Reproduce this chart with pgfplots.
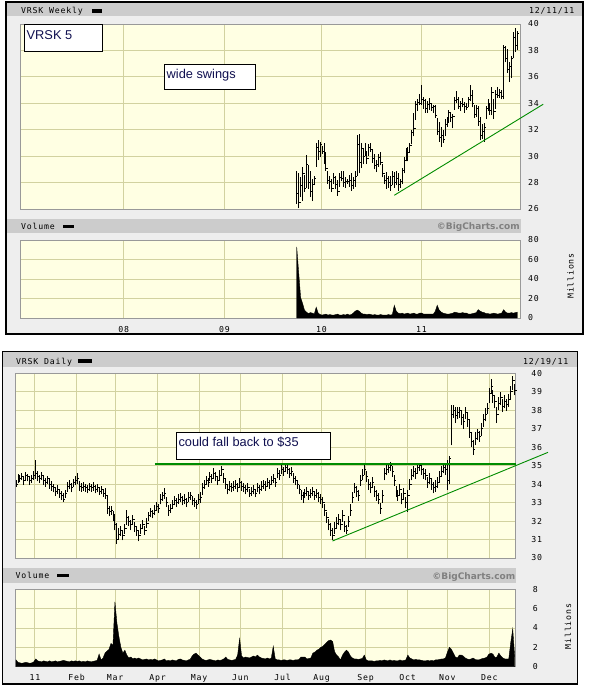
\documentclass[border=0pt]{standalone}
\usepackage{fontspec}
\setmainfont{Liberation Sans}
\newfontfamily\pix[LetterSpace=10]{DejaVu Sans Mono}
\newfontfamily\bcf{DejaVu Sans}
\usepackage{pgfplots}
\usepackage{pgfplotstable}
\pgfplotsset{compat=1.18}
\definecolor{framebg}{HTML}{EEEEEE}
\definecolor{hdr}{HTML}{CCCCCC}
\definecolor{plotbg}{HTML}{FFFFE3}
\definecolor{gridc}{HTML}{D2D2A0}
\definecolor{trend}{HTML}{008C00}
\definecolor{boxtxt}{HTML}{101050}
\newcommand\pixs{\pix\fontsize{8.2}{9}\selectfont}
\newcommand\boxs{\fontsize{12.8}{14}\selectfont\color{boxtxt}}

% weekly: x = week index (0 = week of 9 Oct 2009), lo hi close, v = volume (millions)
\pgfplotstableread{
x lo hi cl v
0 26.4 28.9 27.2 73
1 26.05 28.7 26.5 47
2 26.9 28.4 27.8 21
3 26.6 29.2 28.7 15
4 27.3 28.6 27.6 8
5 27.6 30.1 29.4 6
6 27.5 29.3 28.0 4.5
7 26.9 28.9 27.3 5.5
8 26.6 28.3 27.9 5
9 27.8 28.5 28.3 4
10 29.2 31.0 30.7 11
11 29.7 31.2 30.4 5
12 29.9 31.1 30.9 3.5
13 30.2 30.8 30.4 3
14 29.4 31.0 29.7 3.5
15 28.9 30.3 29.1 4
16 27.9 28.9 28.2 3
17 27.5 28.5 28.1 3.5
18 27.3 28.3 27.6 3
19 27.9 28.7 28.4 3
20 27.5 28.5 27.9 3.5
21 27.0 28.2 27.3 4
22 27.7 28.7 28.4 3
23 28.1 28.9 28.3 3
24 27.7 28.9 28.0 3.5
25 27.6 28.4 28.1 3
26 27.9 28.3 28.1 4
27 27.7 28.6 28.2 3
28 27.4 28.7 27.8 3.5
29 27.5 28.4 28.2 5
30 27.7 28.9 28.5 7
31 28.5 31.6 30.9 8
32 28.7 31.7 29.5 7
33 29.1 31.0 30.6 5
34 29.4 30.6 30.0 4
35 30.0 31.0 30.4 4
36 29.4 30.4 29.8 3.5
37 30.0 30.9 30.7 4
38 30.3 31.0 30.5 3.5
39 29.5 30.5 29.8 3
40 29.0 30.2 29.3 3.5
41 28.8 29.7 29.4 3
42 29.2 30.2 29.9 3
43 29.3 30.3 29.5 3.5
44 28.4 29.4 28.7 3
45 27.9 28.6 28.2 3
46 27.5 28.8 28.3 3
47 27.6 28.5 28.0 3.5
48 27.4 28.5 27.8 3
49 27.8 28.9 28.5 3.5
50 27.6 28.8 28.0 13
51 27.8 28.9 28.3 7
52 27.4 28.7 27.9 5
53 27.6 28.3 28.1 4.5
54 27.9 29.1 28.9 5
55 28.7 29.9 29.7 4
56 29.6 30.6 29.8 4.5
57 29.6 30.7 30.3 5
58 30.3 31.0 30.8 4
59 30.9 32.0 31.8 4.5
60 31.5 33.3 32.1 5
61 32.75 34.15 33.9 4
62 33.4 34.3 34.1 4
63 33.9 34.7 34.0 5
64 33.9 35.4 34.3 5
65 33.6 34.5 34.2 4
66 33.3 34.3 33.6 4
67 33.3 34.2 33.9 4
68 33.5 34.4 34.0 4
69 33.4 34.0 33.7 4
70 33.3 33.9 33.8 4
71 32.9 33.9 33.1 7
72 31.6 32.9 31.9 13
73 31.1 32.6 31.4 8
74 30.7 32.2 31.6 6
75 31.0 32.0 31.3 5
76 31.5 32.8 32.4 4.5
77 32.2 33.0 32.7 4
78 32.5 33.5 33.3 4
79 32.6 33.3 32.9 4.5
80 32.1 33.2 33.0 5
81 33.5 34.5 34.2 6
82 34.0 34.9 34.3 5.5
83 33.6 34.5 33.8 5
84 33.4 34.2 34.0 5
85 33.7 34.4 33.9 5.5
86 33.3 34.1 33.8 5
87 33.5 34.0 33.7 5
88 33.7 34.5 34.3 4
89 34.15 35.4 34.6 4
90 33.7 35.0 34.0 4.5
91 32.9 33.9 33.2 5
92 33.0 33.9 33.6 5.5
93 32.3 33.8 32.6 8.5
94 31.2 33.0 31.6 7
95 31.3 32.4 31.9 6
96 31.1 32.5 32.2 5.5
97 32.8 33.8 33.6 4.5
98 33.4 34.3 34.0 4.5
99 33.1 34.0 33.5 4
100 33.1 35.2 34.8 4.5
101 32.8 34.3 33.4 5
102 33.6 35.0 34.7 4.5
103 34.4 35.2 34.6 4
104 34.4 35.1 34.8 4.5
105 34.3 35.0 34.5 5
106 34.3 38.4 38.2 8.5
107 37.1 38.3 37.4 6
108 36.3 38.1 36.6 5
109 35.6 37.1 36.8 5
110 35.9 37.6 37.4 5.5
111 37.4 39.4 39.0 5
112 37.9 39.7 38.4 5.5
113 38.0 39.5 39.3 6
}\weekly

% daily: x = trading day index (0 = 20 Dec 2010), lo hi close, v = volume (millions)
\pgfplotstableread{
x lo hi cl v
0 33.85 34.25 34.0 0.7
1 34.05 34.55 34.4 0.45
2 34.1 34.5 34.3 0.4
3 34.2 34.6 34.4 0.35
4 33.95 34.45 34.2 0.4
5 34.2 34.65 34.5 0.45
6 34.15 34.55 34.4 0.4
7 33.95 34.45 34.2 0.35
8 34.05 34.5 34.3 0.4
9 34.25 34.7 34.5 0.5
10 34.3 35.3 34.6 0.8
11 34.15 34.7 34.4 0.6
12 34.05 34.5 34.3 0.55
13 34.2 34.65 34.5 0.5
14 33.95 34.5 34.2 0.6
15 33.85 34.35 34.1 0.55
16 34.0 34.45 34.3 0.5
17 33.75 34.3 34.0 0.6
18 33.65 34.15 33.9 0.5
19 33.55 34.0 33.8 0.55
20 33.35 33.85 33.6 0.6
21 33.45 33.95 33.7 0.5
22 33.25 33.75 33.5 0.55
23 33.15 33.65 33.4 0.6
24 33.05 33.5 33.2 0.65
25 33.25 33.7 33.5 0.6
26 33.6 34.1 33.9 0.55
27 33.75 34.2 34.0 0.5
28 33.55 34.05 33.8 0.6
29 33.85 34.3 34.1 0.55
30 33.95 34.45 34.2 0.6
31 34.0 34.6 34.3 0.55
32 33.65 34.15 33.9 0.6
33 33.6 34.05 33.8 0.5
34 33.65 34.1 33.9 0.55
35 33.6 34.0 33.8 0.5
36 33.5 33.95 33.7 0.6
37 33.65 34.05 33.9 0.55
38 33.6 34.0 33.8 0.5
39 33.65 34.1 33.9 0.55
40 33.5 33.95 33.7 0.6
41 33.55 34.0 33.8 0.65
42 33.4 33.85 33.6 1.3
43 33.45 33.9 33.7 0.7
44 33.3 33.75 33.5 0.9
45 33.2 33.8 33.4 1.4
46 32.4 33.4 32.7 1.6
47 32.25 32.8 32.5 1.8
48 32.35 32.8 32.6 2.4
49 32.0 32.55 32.3 2.2
50 31.5 32.4 31.8 6.7
51 30.75 31.9 31.0 4.5
52 31.0 31.6 31.3 3.1
53 31.2 31.75 31.5 2.0
54 30.95 31.5 31.2 1.4
55 31.3 31.85 31.6 1.7
56 31.8 32.6 32.2 1.2
57 31.75 32.3 32.0 0.9
58 31.5 32.05 31.8 1.0
59 31.8 32.35 32.1 0.8
60 31.4 31.95 31.7 0.9
61 31.2 31.75 31.5 0.8
62 30.9 31.5 31.2 0.9
63 31.3 31.85 31.6 0.8
64 31.55 32.05 31.8 0.7
65 31.25 31.75 31.5 0.75
66 31.6 32.15 31.9 0.8
67 32.0 32.5 32.3 0.7
68 32.2 32.7 32.5 0.75
69 32.15 32.6 32.4 0.7
70 32.35 32.85 32.6 0.8
71 32.55 33.05 32.8 0.7
72 32.45 32.95 32.7 0.6
73 32.9 33.45 33.2 0.65
74 33.1 33.6 33.4 0.7
75 33.2 33.8 33.5 0.8
76 32.75 33.3 33.0 0.6
77 32.3 32.85 32.6 0.65
78 32.45 32.95 32.7 0.6
79 32.65 33.15 32.9 0.7
80 32.85 33.35 33.1 0.65
81 32.75 33.25 33.0 0.6
82 32.95 33.45 33.2 0.75
83 33.05 33.5 33.3 0.8
84 32.85 33.35 33.1 0.7
85 32.95 33.45 33.2 0.65
86 32.75 33.25 33.0 0.6
87 33.05 33.55 33.3 0.7
88 33.15 33.6 33.4 0.75
89 32.85 33.35 33.1 1.1
90 32.75 33.25 33.0 1.3
91 32.65 33.15 32.9 1.4
92 32.95 33.45 33.2 1.2
93 33.0 33.6 33.3 1.0
94 33.4 34.05 33.8 0.8
95 33.75 34.25 34.0 0.7
96 33.95 34.45 34.2 0.65
97 33.85 34.35 34.1 0.7
98 34.15 34.65 34.4 0.75
99 34.05 34.55 34.3 0.7
100 34.35 34.85 34.6 0.65
101 34.15 34.65 34.4 0.6
102 33.95 34.45 34.2 0.7
103 34.25 34.75 34.5 0.65
104 34.5 35.0 34.8 0.7
105 34.05 34.6 34.3 0.8
106 33.75 34.3 34.0 1.0
107 33.45 33.95 33.7 0.75
108 33.65 34.15 33.9 0.7
109 33.55 34.05 33.8 0.65
110 33.65 34.15 33.9 0.7
111 33.75 34.25 34.0 0.75
112 33.55 34.05 33.8 1.2
113 33.85 34.35 34.1 2.9
114 33.65 34.15 33.9 1.1
115 33.55 34.05 33.8 0.9
116 33.45 33.95 33.7 1.0
117 33.55 34.05 33.8 0.95
118 33.3 33.75 33.5 0.9
119 33.35 33.85 33.6 1.0
120 33.45 33.95 33.7 1.1
121 33.3 33.75 33.5 1.0
122 33.55 34.05 33.8 1.2
123 33.45 33.95 33.7 1.0
124 33.65 34.15 33.9 0.9
125 33.75 34.25 34.0 0.85
126 33.65 34.15 33.9 0.8
127 33.85 34.35 34.1 0.9
128 33.75 34.25 34.0 0.8
129 33.95 34.45 34.2 0.9
130 34.05 34.55 34.3 2.1
131 33.85 34.35 34.1 0.8
132 34.35 34.85 34.6 0.7
133 34.25 34.75 34.5 0.7
134 34.55 35.05 34.8 0.65
135 34.45 34.95 34.7 0.7
136 34.65 35.1 34.9 0.7
137 34.55 35.1 34.8 0.65
138 34.35 34.85 34.6 0.7
139 34.45 34.95 34.7 0.7
140 34.05 34.6 34.3 0.65
141 33.95 34.45 34.2 0.7
142 33.75 34.25 34.0 0.7
143 33.45 33.95 33.7 0.75
144 33.15 33.7 33.4 1.0
145 33.0 33.55 33.3 1.0
146 33.25 33.75 33.5 1.0
147 33.35 33.85 33.6 0.8
148 33.15 33.65 33.4 0.85
149 33.25 33.75 33.5 0.9
150 33.35 33.85 33.6 1.4
151 33.15 33.65 33.4 1.5
152 33.25 33.75 33.5 1.7
153 33.05 33.55 33.3 1.8
154 32.95 33.45 33.2 2.0
155 32.7 33.3 33.0 2.1
156 32.3 32.9 32.6 2.3
157 31.9 32.5 32.2 2.5
158 31.5 32.1 31.8 2.7
159 31.2 31.9 31.5 2.75
160 31.0 31.6 31.2 2.6
161 31.3 31.95 31.6 1.55
162 31.6 32.2 31.9 1.2
163 31.8 32.4 32.1 1.0
164 31.5 32.1 31.8 0.7
165 31.95 32.6 32.3 1.2
166 31.4 32.0 31.7 1.5
167 31.3 31.8 31.5 1.7
168 31.7 32.3 32.0 1.5
169 32.3 32.95 32.6 1.1
170 33.0 33.6 33.3 0.9
171 33.5 34.05 33.8 0.8
172 33.3 33.9 33.6 0.8
173 33.1 33.7 33.4 0.75
174 33.9 34.5 34.2 0.8
175 34.2 34.8 34.5 0.85
176 34.5 35.05 34.8 1.2
177 34.1 34.7 34.4 0.7
178 33.7 34.3 34.0 0.6
179 33.5 34.1 33.8 0.6
180 33.8 34.4 34.1 0.6
181 33.3 33.9 33.6 0.55
182 33.1 33.7 33.4 0.6
183 32.9 33.5 33.2 0.6
184 32.4 33.0 32.7 0.65
185 33.0 33.7 33.4 0.6
186 34.2 34.9 34.6 0.7
187 34.5 35.1 34.8 0.65
188 34.6 35.15 34.9 0.6
189 34.7 35.2 35.0 0.7
190 34.4 35.0 34.7 0.6
191 33.9 34.5 34.2 0.65
192 33.3 33.9 33.6 0.6
193 33.1 33.7 33.4 0.6
194 33.4 34.0 33.7 0.7
195 32.9 33.5 33.2 0.6
196 33.2 33.8 33.5 0.65
197 32.7 33.3 33.0 0.7
198 32.5 33.7 33.4 1.2
199 33.7 34.3 34.0 0.9
200 34.2 34.8 34.5 0.8
201 34.4 35.0 34.7 0.7
202 34.3 34.9 34.6 0.75
203 34.6 35.1 34.9 0.7
204 34.7 35.15 35.0 0.7
205 34.5 35.1 34.8 0.65
206 34.3 34.9 34.6 0.6
207 34.2 34.8 34.5 0.6
208 33.8 34.4 34.1 0.65
209 34.0 34.6 34.3 0.6
210 33.7 34.3 34.0 0.65
211 33.5 34.1 33.8 0.6
212 33.6 34.2 33.9 0.7
213 33.8 34.4 34.1 0.7
214 34.1 34.7 34.4 0.75
215 34.4 35.0 34.7 0.8
216 34.6 35.1 34.9 0.8
217 34.5 35.05 34.8 0.9
218 33.7 35.3 34.2 1.5
219 34.0 35.5 35.4 2.0
220 36.1 38.3 37.8 1.8
221 37.6 38.3 38.0 1.4
222 37.3 38.2 37.7 1.0
223 37.5 38.2 37.9 0.9
224 37.6 38.2 38.0 1.2
225 37.2 38.0 37.6 1.2
226 37.0 37.8 37.4 1.1
227 37.5 38.2 37.9 0.9
228 37.1 37.9 37.5 0.8
229 36.5 37.5 36.8 0.75
230 36.0 36.8 36.3 0.8
231 35.6 36.4 35.9 0.9
232 36.1 36.8 36.5 0.75
233 36.4 37.0 36.8 0.7
234 36.3 36.9 36.6 0.7
235 36.6 37.3 37.0 0.8
236 37.1 37.8 37.5 0.85
237 37.4 38.1 37.8 0.9
238 37.8 38.4 38.1 1.0
239 38.4 39.2 38.9 1.3
240 38.9 39.7 39.3 1.4
241 38.4 39.1 38.8 1.3
242 38.1 38.8 38.5 0.95
243 37.3 38.2 37.8 1.0
244 38.0 38.7 38.4 1.4
245 38.3 39.0 38.7 1.1
246 37.9 38.6 38.2 0.9
247 38.1 38.8 38.5 0.8
248 37.95 38.6 38.3 0.8
249 38.2 38.9 38.6 0.8
250 38.6 39.3 39.0 2.5
251 39.1 39.85 39.6 3.9
252 38.8 39.4 39.1 1.0
}\daily

\pgfplotsset{
  bc/.style={
    scale only axis,
    clip=false,
    axis background/.style={fill=plotbg},
    grid=major,
    major grid style={draw=gridc, line width=1pt},
    major tick length=0pt,
    tick style={draw=none},
    axis line style={draw=black!40, line width=0.9pt},
    tick label style={font=\pixs, inner sep=0pt},
    yticklabel pos=right,
    yticklabel style={anchor=west, xshift=8pt},
    /pgf/number format/assume math mode=true,
  },
  ohlc/.style={draw=none, mark=none, forget plot,
    error bars/.cd, y dir=plus, y explicit, error mark=none,
    error bar style={draw=black, solid, line width=#1}},
  cls/.style={draw=none, mark=none, forget plot,
    error bars/.cd, x dir=plus, x fixed=1, error mark=none,
    error bar style={draw=black, solid, line width=0.7pt}},
}

\begin{document}
\begin{tikzpicture}
\path[use as bounding box, fill=white] (0,0) rectangle (614pt,-686pt);
\begin{scope}[x=1pt,y=-1pt]
  % weekly frame
  \filldraw[fill=framebg, draw=black, line width=1.2pt] (6,2) rectangle (583,334);
  \fill[hdr] (6.6,2.6) rectangle (582.4,16);
  \fill[hdr] (6.6,219) rectangle (521,233);
  % daily frame
  \filldraw[fill=framebg, draw=black, line width=1.2pt] (2.7,351.7) rectangle (577.7,684);
  \fill[hdr] (3.3,352.3) rectangle (577.1,367);
  \fill[hdr] (3.3,568.3) rectangle (516,582.7);
\end{scope}

% ---------- weekly price ----------
\begin{axis}[bc, at={(20.7pt,-209pt)}, anchor=south west,
  width=499.3pt, height=185pt,
  xmin=-141.39, xmax=114.39, ymin=26, ymax=40,
  ytick={26,28,...,40},
  xtick={-88.6,-37.0,12.7,63.9}, xticklabels={}]
  \addplot[ohlc=1pt] table[x=x, y=lo, y error plus expr=\thisrow{hi}-\thisrow{lo}] {\weekly};
  \addplot[cls] table[x=x, y=cl] {\weekly};
  \addplot[trend, line width=0.9pt] coordinates {(50.0,27.04) (126.3,33.93)};
\end{axis}

% ---------- weekly volume ----------
\begin{axis}[bc, at={(20.7pt,-318pt)}, anchor=south west,
  width=499.3pt, height=78pt,
  xmin=-141.39, xmax=114.39, ymin=0, ymax=80,
  ytick={0,20,...,80},
  xtick={-88.6,-37.0,12.7,63.9}, xticklabels={08,09,10,11},
  xticklabel style={anchor=base, yshift=-14.3pt}]
  \addplot[fill=black, draw=black, line width=0.4pt] table[x=x, y=v] {\weekly} \closedcycle;
\end{axis}

% ---------- daily price ----------
\begin{axis}[bc, at={(15pt,-558pt)}, anchor=south west,
  width=500.7pt, height=184.7pt,
  xmin=-0.5, xmax=252.5, ymin=30, ymax=40,
  ytick={30,31,...,40},
  yticklabel style={xshift=7.5pt},
  xtick={9.6,30.68,50.03,71.6,92.48,113.35,134.77,154.47,176.7,197.93,217.94,239.16},
  xticklabels={}]
  \addplot[ohlc=0.9pt] table[x=x, y=lo, y error plus expr=\thisrow{hi}-\thisrow{lo}] {\daily};
  \addplot[cls] table[x=x, y=cl] {\daily};
  \addplot[trend, line width=1.4pt] coordinates {(70.2,35.1) (252.5,35.1)};
  \addplot[trend, line width=0.9pt] coordinates {(159.9,30.92) (268.8,35.72)};
\end{axis}

% ---------- daily volume ----------
\begin{axis}[bc, at={(15pt,-666.7pt)}, anchor=south west,
  width=500.7pt, height=77.4pt,
  xmin=-0.5, xmax=252.5, ymin=0, ymax=8,
  ytick={0,2,...,8},
  yticklabel style={xshift=9pt},
  xtick={9.6,30.68,50.03,71.6,92.48,113.35,134.77,154.47,176.7,197.93,217.94,239.16},
  xticklabels={11,Feb,Mar,Apr,May,Jun,Jul,Aug,Sep,Oct,Nov,Dec},
  xticklabel style={anchor=base, yshift=-13.3pt}]
  \addplot[fill=black, draw=black, line width=0.4pt] table[x=x, y=v] {\daily} \closedcycle;
\end{axis}

\begin{scope}[x=1pt,y=-1pt]
  % headers
  \node[anchor=base west, inner sep=0pt, font=\pixs] at (21,13.3) {VRSK Weekly};
  \fill[black] (92,9.3) rectangle (102,12.7);
  \node[anchor=base west, inner sep=0pt, font=\pixs] at (529,13.3) {12/11/11};
  \node[anchor=base west, inner sep=0pt, font=\pixs] at (21,229.3) {Volume};
  \fill[black] (63,224.5) rectangle (73.5,227.7);
  \node[anchor=base east, inner sep=0pt, font=\bcf\bfseries\fontsize{9}{10}\selectfont, text=black!50] at (520,229.7) {\textcopyright BigCharts.com};
  \node[rotate=90, inner sep=0pt, font=\pixs] at (570.5,276) {Millions};

  \node[anchor=base west, inner sep=0pt, font=\pixs] at (16,364) {VRSK Daily};
  \fill[black] (78.3,359.3) rectangle (91.7,362.7);
  \node[anchor=base west, inner sep=0pt, font=\pixs] at (523,364) {12/19/11};
  \node[anchor=base west, inner sep=0pt, font=\pixs] at (15.5,578.7) {Volume};
  \fill[black] (57,574) rectangle (68.5,577.3);
  \node[anchor=base east, inner sep=0pt, font=\bcf\bfseries\fontsize{9}{10}\selectfont, text=black!50] at (515.5,579) {\textcopyright BigCharts.com};
  \node[rotate=90, inner sep=0pt, font=\pixs] at (568,626.5) {Millions};

  % annotation boxes
  \filldraw[fill=white, draw=black, line width=0.9pt] (24,24) rectangle (102.3,51.7);
  \node[anchor=base west, inner sep=0pt, font=\boxs] at (26.5,39.3) {VRSK 5};
  \filldraw[fill=white, draw=black, line width=0.9pt] (164.3,64.3) rectangle (255.7,89.3);
  \node[anchor=base west, inner sep=0pt, font=\boxs] at (166.5,78.7) {wide swings};
  \filldraw[fill=white, draw=black, line width=0.9pt] (176,432.7) rectangle (330.7,459.3);
  \node[anchor=base west, inner sep=0pt, font=\boxs] at (178.3,446.7) {could fall back to \$35};
\end{scope}
\end{tikzpicture}
\end{document}
